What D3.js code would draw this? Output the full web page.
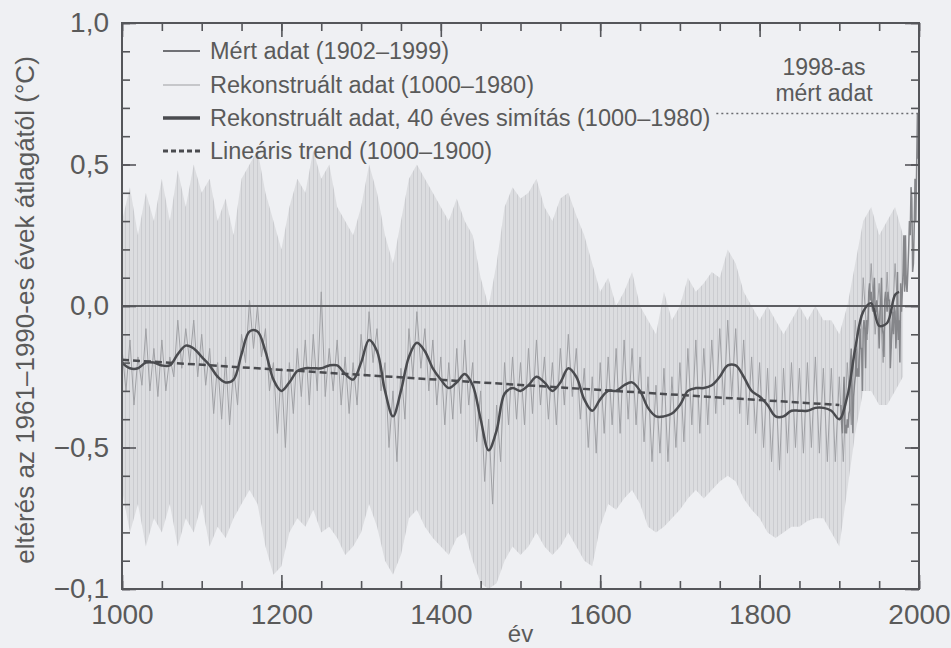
<!DOCTYPE html>
<html><head><meta charset="utf-8">
<script src="https://cdn.jsdelivr.net/npm/d3@7/dist/d3.min.js"></script>
<style>
body{margin:0;background:#eff0f3}
text{font-family:"Liberation Sans",Arial,sans-serif;fill:#5a5a5a}
</style>
</head><body>
<svg id="c" width="951" height="648"></svg>
<script>
// ---- data ----
const bandYears = d3.range(1000, 1981, 10);
const bandUpper = [0.30,0.42,0.25,0.40,0.30,0.45,0.30,0.48,0.35,0.50,0.40,0.45,0.30,0.38,0.25,0.45,0.50,0.55,0.40,0.30,
0.20,0.35,0.45,0.40,0.55,0.45,0.50,0.35,0.30,0.25,0.35,0.50,0.40,0.25,0.15,0.30,0.45,0.50,0.45,0.40,
0.35,0.30,0.38,0.30,0.25,0.10,0.00,0.15,0.35,0.42,0.38,0.40,0.45,0.35,0.30,0.38,0.40,0.32,0.25,0.15,
0.05,0.10,0.00,0.05,0.12,0.00,-0.05,-0.10,0.05,-0.05,0.00,0.10,0.05,0.08,0.12,0.10,0.20,0.15,0.05,0.00,
-0.05,0.00,-0.05,-0.10,-0.05,0.00,-0.05,0.00,-0.05,-0.05,-0.10,0.00,0.15,0.30,0.35,0.25,0.30,0.35,0.25];
const bandLower = [-0.65,-0.80,-0.70,-0.85,-0.75,-0.80,-0.70,-0.85,-0.75,-0.80,-0.70,-0.85,-0.78,-0.82,-0.75,-0.70,-0.65,-0.70,-0.85,-0.95,
-0.92,-0.80,-0.75,-0.78,-0.72,-0.80,-0.78,-0.82,-0.88,-0.85,-0.80,-0.70,-0.78,-0.90,-0.95,-0.88,-0.75,-0.72,-0.78,-0.82,
-0.85,-0.88,-0.82,-0.80,-0.90,-0.98,-1.00,-0.98,-0.90,-0.85,-0.88,-0.85,-0.80,-0.85,-0.88,-0.85,-0.80,-0.85,-0.90,-0.92,
-0.78,-0.70,-0.72,-0.68,-0.65,-0.70,-0.78,-0.80,-0.78,-0.75,-0.72,-0.68,-0.65,-0.68,-0.65,-0.62,-0.60,-0.62,-0.68,-0.72,
-0.75,-0.80,-0.82,-0.80,-0.78,-0.78,-0.76,-0.75,-0.75,-0.80,-0.85,-0.65,-0.45,-0.30,-0.30,-0.35,-0.35,-0.30,-0.25];

const reconYears = d3.range(1000, 1981, 5);
const reconValues = [-0.15,-0.30,-0.12,-0.35,-0.18,-0.28,-0.08,-0.30,-0.15,-0.32,-0.12,-0.30,-0.18,-0.25,-0.05,-0.22,-0.08,-0.20,-0.05,-0.25,
-0.10,-0.28,-0.15,-0.38,-0.20,-0.40,-0.18,-0.42,-0.22,-0.35,-0.10,-0.20,0.02,-0.15,0.00,-0.18,-0.08,-0.30,-0.20,-0.45,
-0.22,-0.50,-0.20,-0.38,-0.15,-0.32,-0.12,-0.35,-0.10,-0.30,0.05,-0.32,-0.15,-0.30,-0.12,-0.35,-0.18,-0.38,-0.20,-0.35,
-0.10,-0.25,-0.02,-0.20,-0.08,-0.30,-0.20,-0.50,-0.30,-0.55,-0.22,-0.40,-0.08,-0.25,-0.02,-0.22,-0.08,-0.30,-0.12,-0.35,
-0.18,-0.42,-0.20,-0.40,-0.15,-0.38,-0.12,-0.35,-0.20,-0.48,-0.30,-0.62,-0.40,-0.70,-0.35,-0.55,-0.20,-0.42,-0.18,-0.40,
-0.20,-0.42,-0.15,-0.38,-0.12,-0.35,-0.18,-0.40,-0.20,-0.42,-0.15,-0.35,-0.10,-0.32,-0.15,-0.40,-0.22,-0.50,-0.25,-0.52,
-0.20,-0.45,-0.18,-0.42,-0.15,-0.45,-0.12,-0.40,-0.15,-0.42,-0.18,-0.48,-0.25,-0.55,-0.28,-0.52,-0.22,-0.55,-0.25,-0.50,
-0.20,-0.48,-0.15,-0.42,-0.12,-0.45,-0.15,-0.42,-0.12,-0.38,-0.08,-0.35,-0.05,-0.32,-0.08,-0.38,-0.12,-0.42,-0.18,-0.45,
-0.20,-0.50,-0.22,-0.55,-0.25,-0.58,-0.22,-0.52,-0.20,-0.50,-0.22,-0.52,-0.20,-0.50,-0.18,-0.52,-0.22,-0.55,-0.22,-0.55,
-0.25,-0.55,-0.20,-0.42,-0.05,-0.25,0.10,-0.12,0.15,-0.10,0.08,-0.20,0.12,-0.15,0.15,-0.10,0.10];

const smoothYears = d3.range(1000, 1971, 10).concat([1975]);
const smoothValues = [-0.20,-0.22,-0.22,-0.20,-0.20,-0.21,-0.21,-0.17,-0.14,-0.15,-0.18,-0.21,-0.25,-0.27,-0.26,-0.17,-0.09,-0.09,-0.16,-0.26,
-0.30,-0.27,-0.23,-0.22,-0.22,-0.22,-0.21,-0.21,-0.24,-0.26,-0.20,-0.12,-0.16,-0.30,-0.39,-0.30,-0.18,-0.13,-0.16,-0.22,
-0.26,-0.29,-0.27,-0.24,-0.28,-0.40,-0.51,-0.44,-0.31,-0.29,-0.30,-0.28,-0.25,-0.27,-0.30,-0.27,-0.22,-0.25,-0.33,-0.37,
-0.33,-0.30,-0.30,-0.28,-0.27,-0.30,-0.36,-0.39,-0.39,-0.38,-0.35,-0.30,-0.29,-0.29,-0.28,-0.25,-0.21,-0.21,-0.25,-0.30,
-0.32,-0.35,-0.39,-0.39,-0.37,-0.37,-0.37,-0.36,-0.36,-0.37,-0.40,-0.32,-0.15,-0.02,0.01,-0.07,-0.06,0.04,0.05];

const measuredYears = d3.range(1902, 2000);
const measuredValues = [-0.35,-0.42,-0.45,-0.33,-0.25,-0.45,-0.42,-0.45,-0.40,-0.43,-0.38,-0.37,-0.20,-0.15,-0.35,-0.45,-0.32,-0.28,
-0.25,-0.15,-0.25,-0.22,-0.25,-0.18,-0.08,-0.15,-0.15,-0.30,-0.08,-0.05,-0.08,-0.22,-0.05,-0.10,-0.05,0.05,0.08,0.02,
0.05,0.00,-0.02,0.05,0.10,-0.02,-0.02,0.02,-0.02,-0.05,-0.15,-0.02,0.02,0.10,-0.08,-0.10,-0.18,0.02,0.05,0.02,
-0.02,0.05,0.02,0.02,-0.22,-0.15,-0.08,-0.02,-0.10,0.00,-0.02,-0.15,-0.08,0.12,-0.12,-0.05,-0.20,0.08,-0.02,0.05,
0.12,0.25,0.05,0.25,0.08,0.05,0.12,0.20,0.30,0.25,0.42,0.38,0.12,0.15,0.28,0.45,0.30,0.48,0.68,0.52];

const trendYears = [1000, 1900];
const trendValues = [-0.19, -0.35];

const xTickLabels = [1000, 1200, 1400, 1600, 1800, 2000];
const yTickValues = [-1, -0.5, 0, 0.5, 1];
const yTickLabels = ["\u22120,1", "\u22120,5", "0,0", "0,5", "1,0"];

const legendLabels = ["M\u00e9rt adat (1902\u20131999)", "Rekonstru\u00e1lt adat (1000\u20131980)",
  "Rekonstru\u00e1lt adat, 40 \u00e9ves sim\u00edt\u00e1s (1000\u20131980)", "Line\u00e1ris trend (1000\u20131900)"];
const record1998 = 0.68;

// ---- drawing ----
const svg = d3.select("#c");
const L = 122, R = 919, T = 23, B = 589;
const x = d3.scaleLinear([1000, 2000], [L, R]);
const y = d3.scaleLinear([-1, 1], [B, T]);

const defs = svg.append("defs");
defs.append("clipPath").attr("id", "clip")
  .append("rect").attr("x", L).attr("y", T).attr("width", R - L).attr("height", B - T);
const pat = defs.append("pattern").attr("id", "hatch").attr("patternUnits", "userSpaceOnUse")
  .attr("width", 4).attr("height", 40);
pat.append("rect").attr("width", 4).attr("height", 40).attr("fill", "#dcdde0");
pat.append("rect").attr("x", 1).attr("width", 1).attr("height", 40).attr("fill", "#cbccd0");

const plot = svg.append("g").attr("clip-path", "url(#clip)");

const band = bandYears.map((yr, i) => ({yr, hi: bandUpper[i], lo: bandLower[i]}));
plot.append("path").datum(band)
  .attr("d", d3.area().x(d => x(d.yr)).y0(d => y(d.lo)).y1(d => y(d.hi)))
  .attr("fill", "url(#hatch)");

plot.append("path").datum(reconYears.map((yr, i) => [yr, reconValues[i]]))
  .attr("d", d3.line().x(d => x(d[0])).y(d => y(d[1])))
  .attr("fill", "none").attr("stroke", "#a0a1a5").attr("stroke-width", 1);

plot.append("path").datum(measuredYears.map((yr, i) => [yr, measuredValues[i]]))
  .attr("d", d3.line().x(d => x(d[0])).y(d => y(d[1])))
  .attr("fill", "none").attr("stroke", "#85868a").attr("stroke-width", 1.5);

// zero line
plot.append("line").attr("x1", L).attr("x2", R).attr("y1", y(0)).attr("y2", y(0))
  .attr("stroke", "#5d5e62").attr("stroke-width", 2);

plot.append("path").datum(trendYears.map((yr, i) => [yr, trendValues[i]]))
  .attr("d", d3.line().x(d => x(d[0])).y(d => y(d[1])))
  .attr("fill", "none").attr("stroke", "#4a4b4f").attr("stroke-width", 2.5).attr("stroke-dasharray", "7,4");

plot.append("path").datum(smoothYears.map((yr, i) => [yr, smoothValues[i]]))
  .attr("d", d3.line().curve(d3.curveCatmullRom.alpha(0.5)).x(d => x(d[0])).y(d => y(d[1])))
  .attr("fill", "none").attr("stroke", "#4a4b4f").attr("stroke-width", 2.5);

// axes
const axCol = "#55565a";
function styleAxis(g) {
  g.select(".domain").remove();
  g.selectAll(".tick line").attr("stroke", axCol).attr("stroke-width", 1.6);
  g.selectAll("text").attr("fill", "#5a5a5a");
}
const xMinor = d3.range(1000, 2001, 50), xMajor = d3.range(1000, 2001, 200);
const yMinor = d3.range(-10, 11).map(v => v / 10);

svg.append("g").attr("transform", `translate(0,${B})`)
  .call(d3.axisBottom(x).tickValues(xMinor).tickSize(-8).tickFormat("")).call(styleAxis);
svg.append("g").attr("transform", `translate(0,${B})`)
  .call(d3.axisBottom(x).tickValues(xMajor).tickSize(-14).tickPadding(15).tickFormat(d3.format("d")))
  .call(styleAxis).selectAll("text").style("font-size", "28px");
svg.append("g").attr("transform", `translate(0,${T})`)
  .call(d3.axisTop(x).tickValues(xMinor).tickSize(-8).tickFormat("")).call(styleAxis);
svg.append("g").attr("transform", `translate(0,${T})`)
  .call(d3.axisTop(x).tickValues(xMajor).tickSize(-14).tickFormat("")).call(styleAxis);

svg.append("g").attr("transform", `translate(${L},0)`)
  .call(d3.axisLeft(y).tickValues(yMinor).tickSize(-8).tickFormat("")).call(styleAxis);
svg.append("g").attr("transform", `translate(${L},0)`)
  .call(d3.axisLeft(y).tickValues(yTickValues).tickSize(-14).tickPadding(13)
    .tickFormat((d, i) => yTickLabels[i]))
  .call(styleAxis).selectAll("text").style("font-size", "28px");
svg.append("g").attr("transform", `translate(${R},0)`)
  .call(d3.axisRight(y).tickValues(yMinor).tickSize(-8).tickFormat("")).call(styleAxis);
svg.append("g").attr("transform", `translate(${R},0)`)
  .call(d3.axisRight(y).tickValues(yTickValues).tickSize(-14).tickFormat("")).call(styleAxis);

// frame
svg.append("rect").attr("x", L).attr("y", T).attr("width", R - L).attr("height", B - T)
  .attr("fill", "none").attr("stroke", axCol).attr("stroke-width", 2);

// axis titles
svg.append("text").attr("x", (L + R) / 2).attr("y", 642).attr("text-anchor", "middle")
  .style("font-size", "24px").text("\u00e9v");
svg.append("text").attr("transform", `translate(34,${(T + B) / 2 + 4}) rotate(-90)`)
  .attr("text-anchor", "middle").style("font-size", "26px")
  .text("elt\u00e9r\u00e9s az 1961\u20131990-es \u00e9vek \u00e1tlag\u00e1t\u00f3l (\u00b0C)");

// legend
const legRows = [51, 85, 118, 151];
const legStyles = [
  {c: "#707175", w: 2, dash: null},
  {c: "#b9babd", w: 1.5, dash: null},
  {c: "#4a4b4f", w: 3.5, dash: null},
  {c: "#4a4b4f", w: 3, dash: "5,3"}
];
const leg = svg.append("g");
let row3end = 0;
legendLabels.forEach((lab, i) => {
  leg.append("line").attr("x1", 163).attr("x2", 200).attr("y1", legRows[i]).attr("y2", legRows[i])
    .attr("stroke", legStyles[i].c).attr("stroke-width", legStyles[i].w)
    .attr("stroke-dasharray", legStyles[i].dash);
  const t = leg.append("text").attr("x", 210).attr("y", legRows[i]).attr("dy", "0.35em")
    .style("font-size", "23.5px").text(lab);
  if (i === 2) row3end = 210 + t.node().getComputedTextLength();
});

// 1998 annotation
svg.append("line").attr("x1", row3end + 6).attr("x2", R).attr("y1", y(record1998)).attr("y2", y(record1998))
  .attr("stroke", "#6a6b6f").attr("stroke-width", 1.5).attr("stroke-dasharray", "2,3");
svg.append("text").attr("x", 824).attr("y", 75).attr("text-anchor", "middle").style("font-size", "23px").text("1998-as");
svg.append("text").attr("x", 824).attr("y", 101).attr("text-anchor", "middle").style("font-size", "23px").text("m\u00e9rt adat");
</script>
</body></html>
